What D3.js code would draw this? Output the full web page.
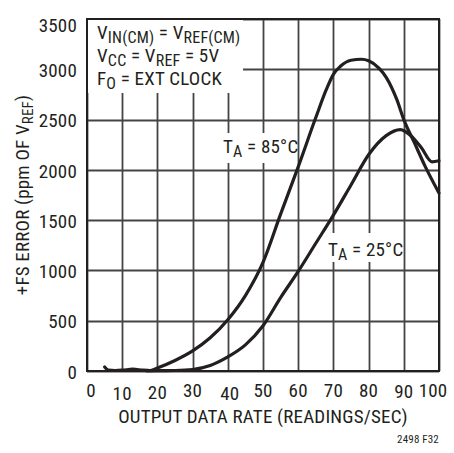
<!DOCTYPE html>
<html>
<head>
<meta charset="utf-8">
<script src="https://cdn.jsdelivr.net/npm/d3@7"></script>
<style>
  body { margin: 0; background: #fff; }
  text { font-family: 'Liberation Sans Narrow', 'Roboto Condensed', 'DejaVu Sans Condensed', sans-serif; fill: #231f20; letter-spacing: 0.2px; }
</style>
</head>
<body>
<svg id="chart"></svg>
<script>
// curve readings, T_A = 85°C
var rate85 = [5, 6, 8, 10, 13, 16, 18, 20, 25, 30, 35, 40, 45, 50, 55, 60, 65, 68, 70, 72, 75, 78, 80, 83, 85, 88, 90, 93, 96, 100];
var err85  = [40, 10, 5, 8, 18, 8, 5, 30, 105, 200, 330, 510, 750, 1080, 1560, 2030, 2520, 2800, 2950, 3030, 3090, 3100, 3085, 3010, 2920, 2700, 2500, 2270, 2040, 1770];

// curve readings, T_A = 25°C
var rate25 = [17, 20, 25, 30, 35, 40, 45, 50, 55, 60, 65, 70, 75, 80, 85, 89, 92, 95, 98, 100];
var err25  = [0, 3, 5, 15, 55, 140, 260, 450, 730, 990, 1270, 1550, 1850, 2150, 2340, 2400, 2340, 2220, 2080, 2090];

var xTicks = [0, 10, 20, 30, 40, 50, 60, 70, 80, 90, 100];
var yTicks = [0, 500, 1000, 1500, 2000, 2500, 3000, 3500];

var svgWidth = 454, svgHeight = 453;
var plotLeft = 87, plotTop = 19, plotW = 352, plotH = 352;
var fs = 19;

var svg = d3.select('#chart')
    .attr('width', svgWidth)
    .attr('height', svgHeight);

var x = d3.scaleLinear().domain([0, 100]).range([plotLeft, plotLeft + plotW]);
var y = d3.scaleLinear().domain([0, 3500]).range([plotTop + plotH, plotTop]);

// grid
svg.selectAll('.vgrid')
    .data(xTicks)
    .enter()
    .append('path')
    .attr('class', 'vgrid')
    .attr('d', function(d) { return 'M' + (Math.round(x(d)) + 0.5) + ',' + y(0) + 'V' + y(3500); })
    .attr('fill', 'none')
    .attr('stroke', '#444')
    .attr('stroke-width', 1.8);

svg.selectAll('.hgrid')
    .data(yTicks)
    .enter()
    .append('path')
    .attr('class', 'hgrid')
    .attr('d', function(d) { return 'M' + x(0) + ',' + (Math.round(y(d)) + 0.5) + 'H' + x(100); })
    .attr('fill', 'none')
    .attr('stroke', '#444')
    .attr('stroke-width', 1.8);

// white boxes behind the labels
svg.append('rect').attr('x', 88).attr('y', 20).attr('width', 155).attr('height', 73).attr('fill', '#fff');
svg.append('rect').attr('x', 215).attr('y', 133).attr('width', 80).attr('height', 30).attr('fill', '#fff');
svg.append('rect').attr('x', 325).attr('y', 233).attr('width', 77).attr('height', 29).attr('fill', '#fff');

// frame
svg.append('path')
    .attr('d', 'M' + x(0) + ',' + y(0) + 'H' + x(100) + 'V' + y(3500) + 'H' + x(0) + 'Z')
    .attr('fill', 'none').attr('stroke', '#231f20').attr('stroke-width', 2);

// curves
var lineGen = d3.line()
    .x(function(d) { return x(d[0]); })
    .y(function(d) { return y(d[1]); })
    .curve(d3.curveMonotoneX);

svg.append('path')
    .datum(d3.zip(rate85, err85))
    .attr('d', lineGen)
    .attr('fill', 'none').attr('stroke', '#231f20').attr('stroke-width', 3.2)
    .attr('stroke-linecap', 'round');

svg.append('path')
    .datum(d3.zip(rate25, err25))
    .attr('d', lineGen)
    .attr('fill', 'none').attr('stroke', '#231f20').attr('stroke-width', 3.2)
    .attr('stroke-linecap', 'round');

// tick labels
svg.selectAll('.ylab')
    .data(yTicks)
    .enter()
    .append('text')
    .attr('class', 'ylab')
    .attr('x', 77)
    .attr('y', function(d) { return y(d) + (d == 3500 ? 6 : 1); })
    .attr('dy', '0.35em')
    .attr('text-anchor', 'end')
    .attr('font-size', fs)
    .text(function(d) { return d; });

// the original labels sit a little uneven
var nudge = { 0: [4, 0], 10: [0, 3], 20: [0, 2], 40: [2, 3], 90: [0, 1], 100: [-6, 0] };
svg.selectAll('.xlab')
    .data(xTicks)
    .enter()
    .append('text')
    .attr('class', 'xlab')
    .attr('x', function(d) { return x(d) + (nudge[d] ? nudge[d][0] : 0); })
    .attr('y', function(d) { return 397 + (nudge[d] ? nudge[d][1] : 0); })
    .attr('text-anchor', 'middle')
    .attr('font-size', fs)
    .text(function(d) { return d; });

// axis titles
svg.append('text')
    .attr('x', x(50)).attr('y', 423)
    .attr('text-anchor', 'middle')
    .attr('font-size', fs)
    .text('OUTPUT DATA RATE (READINGS/SEC)');

var yt = svg.append('text')
    .attr('transform', 'translate(29,' + y(1750) + ') rotate(-90)')
    .attr('text-anchor', 'middle')
    .attr('font-size', fs);
yt.append('tspan').text('+FS ERROR (ppm OF V');
yt.append('tspan').attr('dy', 4).attr('font-size', 15).text('REF');
yt.append('tspan').attr('dy', -4).text(')');

// conditions
function sub(t, parts) {
  parts.forEach(function(p) {
    if (p[1]) t.append('tspan').attr('dy', 4).attr('font-size', 16).text(p[0]);
    else t.append('tspan').attr('dy', p[2] ? -4 : 0).text(p[0]);
  });
}
var t1 = svg.append('text').attr('x', 97).attr('y', 39).attr('font-size', fs);
sub(t1, [['V'], ['IN(CM)', 1], [' = V', 0, 1], ['REF(CM)', 1]]);
var t2 = svg.append('text').attr('x', 97).attr('y', 62).attr('font-size', fs);
sub(t2, [['V'], ['CC', 1], [' = V', 0, 1], ['REF', 1], [' = 5V', 0, 1]]);
var t3 = svg.append('text').attr('x', 97).attr('y', 85).attr('font-size', fs);
sub(t3, [['F'], ['O', 1], [' = EXT CLOCK', 0, 1]]);

var l85 = svg.append('text').attr('x', 223).attr('y', 153).attr('font-size', fs);
sub(l85, [['T'], ['A', 1], [' = 85°C', 0, 1]]);
var l25 = svg.append('text').attr('x', 328).attr('y', 256).attr('font-size', fs);
sub(l25, [['T'], ['A', 1], [' = 25°C', 0, 1]]);

svg.append('text')
    .attr('x', 439).attr('y', 443)
    .attr('text-anchor', 'end')
    .attr('font-size', 11)
    .text('2498 F32');
</script>
</body>
</html>
